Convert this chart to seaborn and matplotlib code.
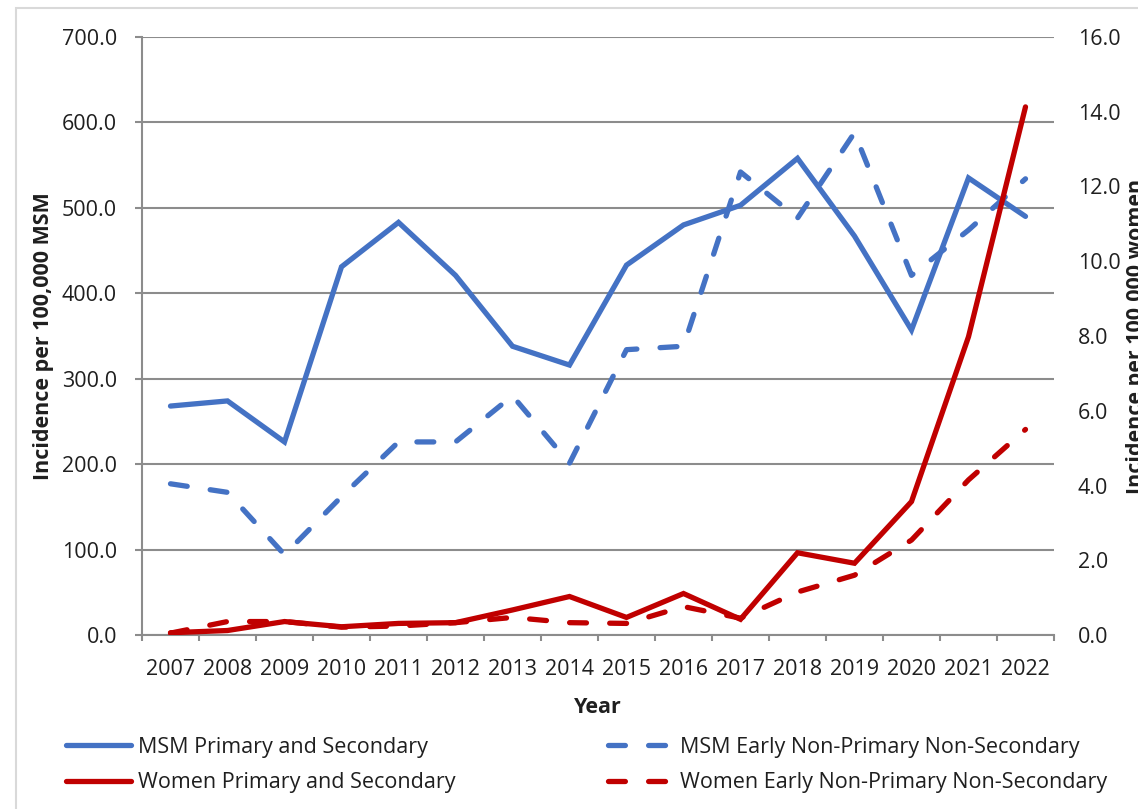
import numpy as np
import pandas as pd
import seaborn as sns
import matplotlib.pyplot as plt
from matplotlib.lines import Line2D
from matplotlib.patches import Rectangle

# values
years = ['2007', '2008', '2009', '2010', '2011', '2012', '2013', '2014',
         '2015', '2016', '2017', '2018', '2019', '2020', '2021', '2022']
msm_ps = [268, 274, 226, 431, 483, 421, 338, 316,
          433, 480, 503, 558, 467, 357, 535, 490]
msm_early = [177, 167, 94, 162, 226, 226, 280, 201,
             334, 338, 542, 488, 588, 421, 474, 534]
women_ps = [0.06, 0.12, 0.36, 0.22, 0.31, 0.33, 0.67, 1.03,
            0.47, 1.11, 0.42, 2.20, 1.92, 3.57, 7.98, 14.13]
women_early = [0.05, 0.36, 0.36, 0.21, 0.24, 0.33, 0.47, 0.33,
               0.31, 0.76, 0.45, 1.15, 1.60, 2.54, 4.15, 5.50]

left_ticks = [0, 100, 200, 300, 400, 500, 600, 700]
right_ticks = [0, 2, 4, 6, 8, 10, 12, 14, 16]

df = pd.DataFrame({'pos': np.arange(len(years)), 'year': years,
                   'msm_ps': msm_ps, 'msm_early': msm_early,
                   'women_ps': women_ps, 'women_early': women_early})

blue = '#4472C4'
red = '#C00000'
grid_col = '#8c8c8c'
txt = '#1f1f1f'
fs = 15.5
lw = 3.8
dash = (3.2, 4.4)

sns.set_style('white')
plt.rcParams['font.family'] = ['Open Sans', 'DejaVu Sans']
plt.rcParams['text.color'] = txt
plt.rcParams['axes.labelcolor'] = txt
plt.rcParams['xtick.color'] = txt
plt.rcParams['ytick.color'] = txt

fig = plt.figure(figsize=(11.38, 8.09), dpi=100)
ax = fig.add_axes([142 / 1138, 1 - 635 / 809, (1054 - 142) / 1138, 598 / 809])
ax2 = ax.twinx()

# MSM on the left axis
sns.lineplot(data=df, x='pos', y='msm_ps', ax=ax, color=blue, lw=lw,
             solid_capstyle='round', solid_joinstyle='miter')
sns.lineplot(data=df, x='pos', y='msm_early', ax=ax, color=blue, lw=lw)
ax.lines[-1].set_dashes(dash)
ax.lines[-1].set_dash_capstyle('round')

# women on the right axis
sns.lineplot(data=df, x='pos', y='women_ps', ax=ax2, color=red, lw=lw,
             solid_capstyle='round', solid_joinstyle='miter')
sns.lineplot(data=df, x='pos', y='women_early', ax=ax2, color=red, lw=lw)
ax2.lines[-1].set_dashes(dash)
ax2.lines[-1].set_dash_capstyle('round')

ax.set_xlim(-0.5, len(years) - 0.5)
ax.set_ylim(0, 700)
ax2.set_ylim(0, 16)

ax.set_yticks(left_ticks)
ax.set_yticklabels([f'{v:.1f}' for v in left_ticks])
ax2.set_yticks(right_ticks)
ax2.set_yticklabels([f'{v:.1f}' for v in right_ticks])

ax.set_xticks(df['pos'])
ax.set_xticklabels(years)
ax.set_xticks(np.arange(-0.5, len(years), 1), minor=True)

ax.grid(axis='y', color=grid_col, lw=1.5)
ax.set_axisbelow(True)
ax2.grid(False)

for s in ['top', 'right']:
    ax.spines[s].set_visible(False)
for s in ['left', 'bottom']:
    ax.spines[s].set_color(grid_col)
    ax.spines[s].set_linewidth(1.5)
for s in ax2.spines.values():
    s.set_visible(False)

ax.tick_params(axis='y', length=5, width=1.5, color=grid_col, pad=13,
               labelsize=fs, left=True)
ax.tick_params(axis='x', which='major', length=0, pad=17, labelsize=fs)
ax.tick_params(axis='x', which='minor', length=4.5, width=1.5,
               color=grid_col, bottom=True)
ax2.tick_params(axis='y', length=0, pad=17, labelsize=fs)

ax.set_xlabel('Year', fontsize=fs, fontweight='bold')
ax.xaxis.set_label_coords(0.5, -0.1037)
ax.set_ylabel('Incidence per 100,000 MSM', fontsize=fs, fontweight='bold')
ax.yaxis.set_label_coords(-0.0963, 0.5)
# the reference crops this label at the right edge
ax2.set_ylabel('Incidence per 100,000 women', fontsize=fs, fontweight='bold')
ax2.yaxis.set_label_coords(1.0789, 0.5)

# legend in two columns under the plot
h1 = [Line2D([], [], color=blue, lw=lw, solid_capstyle='round'),
      Line2D([], [], color=red, lw=lw, solid_capstyle='round')]
h2 = [Line2D([], [], color=blue, lw=lw, dashes=dash, dash_capstyle='round'),
      Line2D([], [], color=red, lw=lw, dashes=dash, dash_capstyle='round')]
leg_kw = dict(loc='upper left', frameon=False, fontsize=fs, handlelength=3.0,
              handletextpad=0.35, labelspacing=0.66, borderpad=0, borderaxespad=0)
fig.legend(h1, ['MSM Primary and Secondary', 'Women Primary and Secondary'],
           bbox_to_anchor=(66 / 1138, 1 - 737 / 809), **leg_kw)
fig.legend(h2, ['MSM Early Non-Primary Non-Secondary',
                'Women Early Non-Primary Non-Secondary'],
           bbox_to_anchor=(608 / 1138, 1 - 737 / 809), **leg_kw)

# chart area border
fig.add_artist(Rectangle((16 / 1138, -0.05), 1.1, 1.05 - 7.5 / 809,
                         transform=fig.transFigure, fill=False,
                         edgecolor='#d9d9d9', lw=1.5))

fig.savefig('out.png', dpi=100)
